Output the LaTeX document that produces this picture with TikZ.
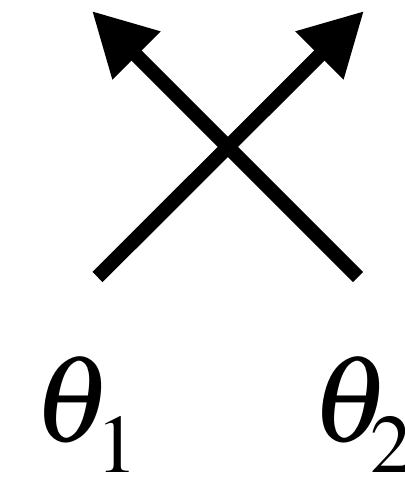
\documentclass[tikz,border=0pt]{standalone}
\usepackage{mathptmx}
\usepackage{tikz}
\usetikzlibrary{arrows.meta}

\tikzset{
  angle/.style={anchor=base west, inner sep=0, font=\fontsize{88}{88}\selectfont},
  index/.style={anchor=base west, inner sep=0, font=\fontsize{59}{59}\selectfont}
}

\begin{document}
\begin{tikzpicture}[x=0.025cm, y=-0.025cm, >={Triangle[length=1.575cm, width=1.6cm]}]
  \useasboundingbox (0,0) rectangle (405,484);
  \coordinate (s1) at (97.5,277);
  \coordinate (e1) at (364,11);
  \coordinate (s2) at (358,277);
  \coordinate (e2) at (92,11);

  \draw[->, line width=0.36cm] (s1) -- (e1);
  \draw[->, line width=0.36cm] (s2) -- (e2);

  \node[angle] (t1) at (33,441) {$\theta$};
  \node[index] (i1) at (96,472) {$1$};
  \node[angle] (t2) at (311,441) {$\theta$};
  \node[index] (i2) at (370,472) {$2$};
\end{tikzpicture}
\end{document}
